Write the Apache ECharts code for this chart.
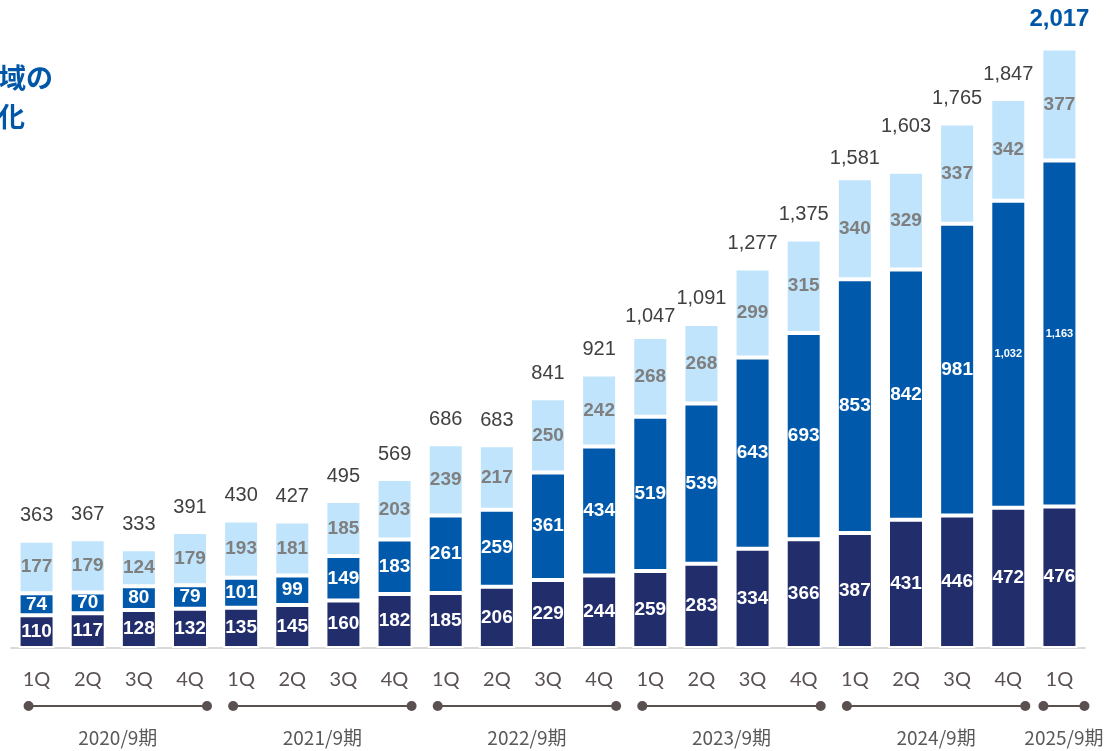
<!DOCTYPE html>
<html>
<head>
<meta charset="utf-8">
<script src="https://cdn.jsdelivr.net/npm/echarts@6/dist/echarts.min.js"></script>
<style>
  html, body { margin: 0; padding: 0; background: #fff; }
  #main { width: 1107px; height: 751px; }
</style>
</head>
<body>
<div id="main"></div>
<script>
// 四半期
var quarters = ['1Q', '2Q', '3Q', '4Q', '1Q', '2Q', '3Q', '4Q', '1Q', '2Q', '3Q', '4Q',
  '1Q', '2Q', '3Q', '4Q', '1Q', '2Q', '3Q', '4Q', '1Q'];
// 下段（濃紺）
var lowerVals = [110, 117, 128, 132, 135, 145, 160, 182, 185, 206, 229, 244,
  259, 283, 334, 366, 387, 431, 446, 472, 476];
// 中段（青）
var middleVals = [74, 70, 80, 79, 101, 99, 149, 183, 261, 259, 361, 434,
  519, 539, 643, 693, 853, 842, 981, 1032, 1163];
// 上段（水色）
var upperVals = [177, 179, 124, 179, 193, 181, 185, 203, 239, 217, 250, 242,
  268, 268, 299, 315, 340, 329, 337, 342, 377];
// 合計
var totals = [363, 367, 333, 391, 430, 427, 495, 569, 686, 683, 841, 921,
  1047, 1091, 1277, 1375, 1581, 1603, 1765, 1847, 2017];
// 期
var periods = ['2020/9期', '2021/9期', '2022/9期', '2023/9期', '2024/9期', '2025/9期'];
var periodFirst = [0, 4, 8, 12, 16, 20];
var periodLast = [3, 7, 11, 15, 19, 20];

var fmt = function (v) { return Number(v).toLocaleString('en-US'); };
var numFont = '"Liberation Sans", Arial, sans-serif';
var cjkFont = '"Noto Sans CJK JP", sans-serif';

var myChart = echarts.init(document.getElementById('main'));

// 合計ラベルの位置の微調整
var totalShift = { 12: -5, 16: -5, 17: 20 };

var seg = function (name, vals, color, labelColor) {
  return {
    name: name,
    type: 'bar',
    stack: 'all',
    barWidth: 36,
    itemStyle: { color: color, borderColor: '#fff', borderWidth: 2 },
    label: {
      show: true,
      position: 'inside',
      color: labelColor,
      fontFamily: numFont,
      fontWeight: 'bold',
      fontSize: 19,
      formatter: function (p) { return fmt(p.value); }
    },
    data: vals.map(function (v) {
      return v >= 1000 ? { value: v, label: { fontSize: 11 } } : v;
    })
  };
};

var options = {
  animation: false,
  grid: { left: 11, right: 22, top: 28, bottom: 103 },
  xAxis: {
    type: 'category',
    data: quarters,
    axisLine: { lineStyle: { color: '#d9d9d9', width: 2 } },
    axisTick: { show: false },
    axisLabel: {
      margin: 22,
      color: '#5a5252',
      fontFamily: 'Lato, sans-serif',
      fontSize: 20,
      interval: 0
    }
  },
  yAxis: {
    type: 'value',
    min: 0,
    max: 2085,
    show: false,
    splitLine: { show: false }
  },
  series: [
    seg('lower', lowerVals, '#222d6b', '#fff'),
    seg('middle', middleVals, '#0059ab', '#fff'),
    seg('upper', upperVals, '#bfe4fb', '#7f7f7f'),
    {
      name: 'total',
      type: 'bar',
      stack: 'all',
      barWidth: 36,
      itemStyle: { color: 'rgba(0,0,0,0)' },
      label: {
        show: true,
        position: 'top',
        distance: 15,
        color: '#404040',
        fontFamily: numFont,
        fontSize: 20,
        formatter: function (p) { return fmt(totals[p.dataIndex]); }
      },
      data: totals.map(function (t, i) {
        if (i === totals.length - 1) {
          return { value: 0, label: { color: '#0057a8', fontWeight: 'bold', fontSize: 24, distance: 17 } };
        }
        if (totalShift[i] !== undefined) {
          return { value: 0, label: { distance: 15 + totalShift[i] } };
        }
        return 0;
      })
    }
  ]
};

myChart.setOption(options);

// 期の線とラベル
var graphics = [];
var lineY = 706;
periods.forEach(function (name, k) {
  var x0 = myChart.convertToPixel({ xAxisIndex: 0 }, periodFirst[k]);
  var x1 = myChart.convertToPixel({ xAxisIndex: 0 }, periodLast[k]);
  var a = x0 - 8, b = x1 + 17;
  if (periodFirst[k] === periodLast[k]) { a = x0 - 16; b = x1 + 25; }
  graphics.push({
    type: 'line', shape: { x1: a, y1: lineY, x2: b, y2: lineY },
    style: { stroke: '#5a5050', lineWidth: 2 }
  });
  graphics.push({ type: 'circle', shape: { cx: a, cy: lineY, r: 5 }, style: { fill: '#5a5050' } });
  graphics.push({ type: 'circle', shape: { cx: b, cy: lineY, r: 5 }, style: { fill: '#5a5050' } });
  graphics.push({
    type: 'text', x: (a + b) / 2, y: 738,
    style: {
      text: name, fill: '#595959', font: '19px ' + cjkFont,
      align: 'center', verticalAlign: 'middle'
    }
  });
});

// 左上の見出し（一部のみ表示）
graphics.push({
  type: 'text', x: 53, y: 78,
  style: { text: '域の', fill: '#0057a8', font: 'bold 27px ' + cjkFont, align: 'right', verticalAlign: 'middle' }
});
graphics.push({
  type: 'text', x: 25, y: 117,
  style: { text: '化', fill: '#0057a8', font: 'bold 27px ' + cjkFont, align: 'right', verticalAlign: 'middle' }
});

myChart.setOption({ graphic: graphics });
</script>
</body>
</html>
